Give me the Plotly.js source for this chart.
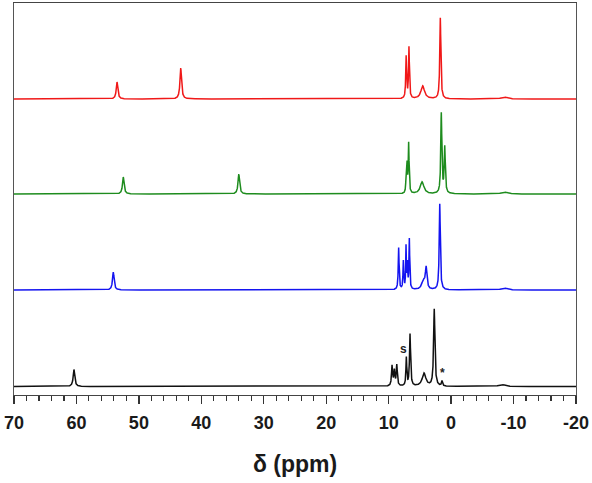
<!DOCTYPE html>
<html>
<head>
<meta charset="utf-8">
<script src="https://cdn.plot.ly/plotly-3.0.1.min.js"></script>
<style>html,body{margin:0;padding:0;background:#fff;}#chart{width:592px;height:483px;}</style>
</head>
<body>
<div id="chart"></div>
<script>
// Peak lists (chemical shift in ppm, peak height, half width)
const redShifts   = [53.5, 43.3, 7.2, 6.75, 4.55, 1.73, -8.5];
const redHeights  = [17, 31, 42, 51, 13, 81, 2];
const redWidths   = [0.15, 0.15, 0.08, 0.08, 0.35, 0.1, 0.6];

const greenShifts  = [52.5, 34.0, 7.2, 7.05, 6.8, 4.65, 1.57, 1.02, -8.5];
const greenHeights = [17, 20, 18, 26, 50, 12, 80, 46, 2];
const greenWidths  = [0.15, 0.15, 0.06, 0.06, 0.08, 0.35, 0.1, 0.1, 0.6];

const blueShifts  = [54.1, 8.4, 7.65, 7.22, 7.0, 6.69, 4.45, 4.0, 1.82, -8.5];
const blueHeights = [18, 42, 28, 42, 24, 50, 9, 21, 86, 2];
const blueWidths  = [0.15, 0.08, 0.07, 0.06, 0.06, 0.07, 0.3, 0.15, 0.1, 0.6];

const blackShifts  = [60.4, 9.46, 9.1, 8.7, 7.17, 6.58, 4.34, 2.7, 1.46, -8.1];
const blackHeights = [17, 20, 15, 21, 28, 52, 13, 77, 5, 2];
const blackWidths  = [0.15, 0.1, 0.1, 0.1, 0.08, 0.1, 0.35, 0.12, 0.1, 0.6];

const xTickVals = [70, 60, 50, 40, 30, 20, 10, 0, -10, -20];
const xTickText = ['70', '60', '50', '40', '30', '20', '10', '0', '-10', '-20'];

// vertical stacking offsets of the four spectra
const offsets = [296, 201, 105, 8.5];

function spectrum(shifts, heights, widths, offset) {
  const xs = [], ys = [];
  for (let i = 0; i <= 9000; i++) {
    const x = 70 - i * 0.01;
    let y = 0;
    for (let k = 0; k < shifts.length; k++) {
      const d = x - shifts[k], w = widths[k];
      y += heights[k] * w * w / (d * d + w * w);
    }
    xs.push(x); ys.push(y + offset);
  }
  return {xs, ys};
}

const series = [
  [redShifts, redHeights, redWidths, '#f01818'],
  [greenShifts, greenHeights, greenWidths, '#1e8c1e'],
  [blueShifts, blueHeights, blueWidths, '#1414f0'],
  [blackShifts, blackHeights, blackWidths, '#111111']
];

const traces = series.map((s, i) => {
  const sp = spectrum(s[0], s[1], s[2], offsets[i]);
  return {x: sp.xs, y: sp.ys, type: 'scatter', mode: 'lines',
          line: {color: s[3], width: 1.5}, hoverinfo: 'skip', showlegend: false};
});

const layout = {
  width: 592, height: 483,
  margin: {l: 14, r: 16, t: 3, b: 88},
  paper_bgcolor: '#fff', plot_bgcolor: '#fff',
  showlegend: false,
  xaxis: {
    range: [70, -20], autorange: false,
    tickmode: 'array', tickvals: xTickVals, ticktext: xTickText,
    ticks: 'outside', ticklen: 8, tickwidth: 1.3, tickcolor: '#333',
    ticklabelstandoff: 3,
    minor: {dtick: 2, ticks: 'outside', ticklen: 5, tickwidth: 1.1, tickcolor: '#333'},
    showline: true, linecolor: '#444', linewidth: 1.4, mirror: true,
    showgrid: false, zeroline: false,
    tickfont: {family: 'Liberation Sans, Arial, sans-serif', size: 18, color: '#1a1a1a', weight: 'bold'},
    title: {text: 'δ (ppm)', standoff: 24,
            font: {family: 'Liberation Sans, Arial, sans-serif', size: 23, color: '#1a1a1a', weight: 'bold'}}
  },
  yaxis: {
    range: [0, 392], autorange: false,
    showticklabels: false, ticks: '', showgrid: false, zeroline: false,
    showline: true, linecolor: '#555', linewidth: 1.4, mirror: true
  },
  annotations: [
    {x: 7.7, y: 46, xref: 'x', yref: 'y', text: 's', showarrow: false,
     font: {family: 'Liberation Sans, Arial, sans-serif', size: 12, color: '#222', weight: 'bold'}},
    {x: 1.4, y: 22, xref: 'x', yref: 'y', text: '*', showarrow: false,
     font: {family: 'Liberation Sans, Arial, sans-serif', size: 12, color: '#222', weight: 'bold'}}
  ]
};

Plotly.newPlot('chart', traces, layout, {displayModeBar: false, staticPlot: true});
</script>
</body>
</html>
